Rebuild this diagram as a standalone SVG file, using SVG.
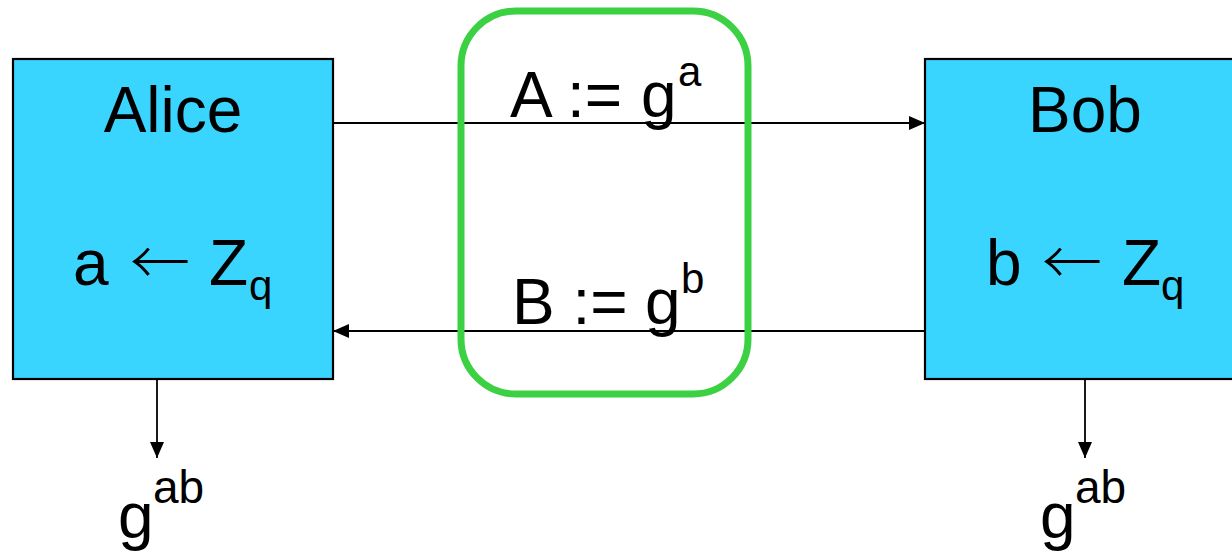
<svg xmlns="http://www.w3.org/2000/svg" width="1232" height="553" viewBox="0 0 1232 553">
<style>
.box{fill:#3AD5FF;stroke:#000;stroke-width:2.2}
.t{font-family:"Liberation Sans",Arial,"DejaVu Sans",sans-serif;fill:#000}
.big{font-size:64px}
.sub{font-size:42px}
.arr{font-family:"Noto Sans CJK JP","DejaVu Sans",sans-serif;font-size:60px;font-weight:300}
.line{stroke:#000;stroke-width:1.8;fill:none}
.green{fill:none;stroke:#3CD142;stroke-width:7}
</style>
<defs>
<marker id="ah" markerUnits="userSpaceOnUse" markerWidth="16" markerHeight="14" refX="16" refY="7" orient="auto">
<path d="M0,0 L16,7 L0,14 z" fill="#000"/>
</marker>
</defs>
<g id="alice">
<rect class="box" x="13" y="59" width="320" height="320"/>
<text class="t big" x="173" y="132" text-anchor="middle">Alice</text>
<text class="t big" y="285"><tspan x="73">a</tspan><tspan class="arr" x="160" y="285" text-anchor="middle">←</tspan><tspan x="209" y="285">Z</tspan><tspan class="sub" x="249" y="300">q</tspan></text>
</g>
<g id="bob">
<rect class="box" x="925" y="59" width="320" height="320"/>
<text class="t big" x="1085" y="132" text-anchor="middle">Bob</text>
<text class="t big" y="285"><tspan x="986">b</tspan><tspan class="arr" x="1072" y="285" text-anchor="middle">←</tspan><tspan x="1122" y="285">Z</tspan><tspan class="sub" x="1161" y="300">q</tspan></text>
</g>
<g id="connectors">
<line class="line" x1="333" y1="123" x2="925" y2="123" marker-end="url(#ah)"/>
<line class="line" x1="925" y1="331" x2="333" y2="331" marker-end="url(#ah)"/>
<line class="line" x1="157" y1="379" x2="157" y2="458" marker-end="url(#ah)"/>
<line class="line" x1="1085" y1="379" x2="1085" y2="458" marker-end="url(#ah)"/>
</g>
<g id="channel">
<rect class="green" x="461" y="11" width="287" height="383" rx="55" ry="55"/>
</g>
<g id="labels">
<text class="t big" y="117"><tspan x="510">A :=</tspan><tspan x="641">g</tspan><tspan class="sub" x="678" y="86">a</tspan></text>
<text class="t big" y="324"><tspan x="512">B :=</tspan><tspan x="645">g</tspan><tspan class="sub" x="681" y="293">b</tspan></text>
<text class="t big" y="538"><tspan x="118">g</tspan><tspan style="font-size:46px" x="153" y="503">ab</tspan></text>
<text class="t big" y="538"><tspan x="1040">g</tspan><tspan style="font-size:46px" x="1075" y="503">ab</tspan></text>
</g>
</svg>
